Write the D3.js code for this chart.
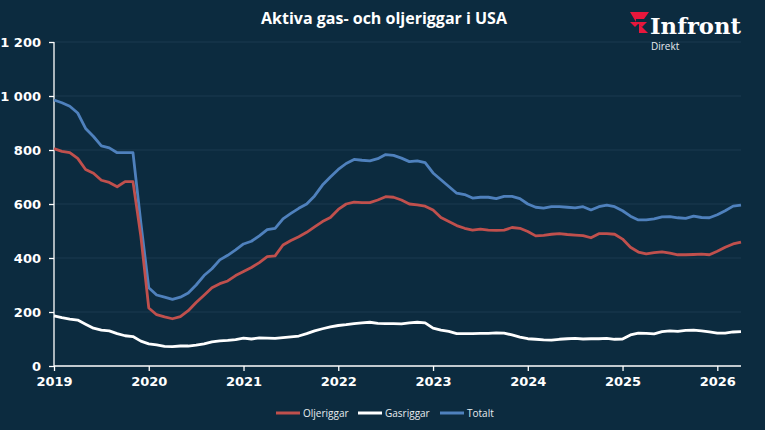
<!DOCTYPE html>
<html><head><meta charset="utf-8">
<script src="https://cdn.jsdelivr.net/npm/d3@7/dist/d3.min.js"></script>
<style>
html,body{margin:0;padding:0;background:#0c2b3f;}
svg{display:block;}
</style></head>
<body>
<svg id="c" width="765" height="430"></svg>
<script>
// Decimal-year positions (monthly, Jan 2019 .. Apr 2026)
const startYear = 2019;
const monthsCount = 88;
const dates = Array.from({length: monthsCount}, (_, i) => startYear + i / 12);

const oilRigs = [805,795,790,769,728,714,688,680,664,683,683,480,
  215,190,182,175,183,205,235,262,290,305,315,335,
  350,365,383,405,408,448,465,479,495,515,535,550,
  580,600,607,605,605,615,627,625,615,600,597,592,
  578,550,535,520,510,503,507,503,502,503,513,510,
  498,482,484,488,490,487,485,483,475,490,490,488,
  470,440,422,415,420,423,418,412,412,413,414,412,
  425,440,452,459];
const gasRigs = [186,179,174,170,155,140,133,130,120,112,109,92,
  82,78,73,72,74,74,77,82,89,93,95,98,
  103,100,104,103,102,105,108,111,120,130,138,145,
  150,153,157,160,162,158,157,157,156,160,162,160,
  140,133,128,120,120,120,121,121,123,122,115,107,
  101,99,97,96,99,101,102,100,101,101,102,99,
  100,115,122,121,119,127,130,128,132,133,130,126,
  122,122,126,127];
const totalRigs = [985,975,962,937,880,850,815,808,790,790,790,530,
  290,263,255,247,255,270,300,335,360,393,410,430,
  452,462,482,505,510,545,565,584,600,630,670,700,
  728,750,765,762,760,768,783,780,770,757,760,753,
  715,690,665,640,635,622,625,625,620,628,628,620,
  600,588,585,590,590,588,586,590,578,590,596,590,
  575,555,541,541,545,552,553,549,547,555,550,549,
  560,575,592,596];

const yTicks = [0,200,400,600,800,1000,1200];
const xTicks = [2019,2020,2021,2022,2023,2024,2025,2026];
const seriesNames = ["Oljeriggar","Gasriggar","Totalt"];
const seriesColors = ["#c0504d","#ffffff","#4f81bd"];
const titleText = "Aktiva gas- och oljeriggar i USA";

const svg = d3.select("#c");
const W = 765, H = 430;
const m = {left:54, right:24, top:42, bottom:64};
const x = d3.scaleLinear().domain([2019, 2026.25]).range([m.left, W - m.right]);
const y = d3.scaleLinear().domain([0,1200]).range([H - m.bottom, m.top]);

svg.append("rect").attr("width",W).attr("height",H).attr("fill","#0c2b3f");

// gridlines
svg.append("g").selectAll("line").data(yTicks.slice(1)).join("line")
  .attr("x1", x.range()[0]).attr("x2", x.range()[1])
  .attr("y1", d=>y(d)).attr("y2", d=>y(d))
  .attr("stroke","#1b3b50").attr("stroke-width",1);

// axes
const fmt = d => d3.format(",")(d).replace(/,/g," ");
const yAxis = svg.append("g").attr("transform",`translate(${m.left},0)`)
  .call(d3.axisLeft(y).tickValues(yTicks).tickFormat(fmt).tickSize(5).tickPadding(8));
const xAxis = svg.append("g").attr("transform",`translate(0,${H-m.bottom})`)
  .call(d3.axisBottom(x).tickValues(xTicks).tickFormat(d3.format("d")).tickSize(5).tickPadding(6));
[yAxis,xAxis].forEach(a=>{
  a.selectAll("path,line").attr("stroke","#ffffff").attr("stroke-width",1.3);
  a.selectAll("text").attr("fill","#ffffff")
    .style("font-family","'DejaVu Sans', Verdana, sans-serif")
    .style("font-weight","bold").style("font-size","13px");
});
xAxis.select(".domain").attr("d", `M${x.range()[0]},0H${x.range()[1]}`);
yAxis.select(".domain").attr("d", `M0,${y.range()[1]}V${y.range()[0]}`);

// lines
const seriesData = [oilRigs, gasRigs, totalRigs];
const line = d3.line().x((d,i)=>x(dates[i])).y(d=>y(d)).curve(d3.curveLinear);
[2,0,1].forEach(k=>{
  svg.append("path").datum(seriesData[k]).attr("d", line)
    .attr("fill","none").attr("stroke", seriesColors[k])
    .attr("stroke-width",2.8).attr("stroke-linejoin","round");
});

// title
svg.append("text").attr("x",384).attr("y",24).attr("text-anchor","middle")
  .attr("fill","#ffffff").style("font-family","'Open Sans', Lato, sans-serif")
  .style("font-weight","bold").style("font-size","16px").text(titleText);

// legend
const legendX = [276, 358, 440];
const lg = svg.append("g");
seriesNames.forEach((n,i)=>{
  lg.append("line").attr("x1",legendX[i]).attr("x2",legendX[i]+24)
    .attr("y1",413).attr("y2",413).attr("stroke",seriesColors[i]).attr("stroke-width",3);
  lg.append("text").attr("x",legendX[i]+27).attr("y",417)
    .attr("fill","#e8ecef").style("font-family","'Open Sans', sans-serif")
    .style("font-size","10px").text(n);
});

// logo
const logo = svg.append("g");
logo.append("path").attr("d","M630,12 L649,12 L644,19 L636,19 L636,22 Z").attr("fill","#e8173c");
logo.append("path").attr("d","M630,22 L640,22 L635,27 Z").attr("fill","#e8173c");
logo.append("path").attr("d","M639,24 L648,33 L639,33 Z").attr("fill","#e8173c");
logo.append("path").attr("d","M636,22 L647,22 L642,27 Z").attr("fill","#e8173c");
logo.append("text").attr("x",650).attr("y",34).attr("fill","#ffffff")
  .style("font-family","'DejaVu Serif', serif").style("font-weight","bold")
  .style("font-size","23px").attr("textLength",91).attr("lengthAdjust","spacingAndGlyphs").text("Infront");
logo.append("text").attr("x",651).attr("y",50).attr("fill","#e8ecef")
  .style("font-family","'Open Sans', sans-serif").style("font-size","10px").text("Direkt");
</script>
</body></html>
